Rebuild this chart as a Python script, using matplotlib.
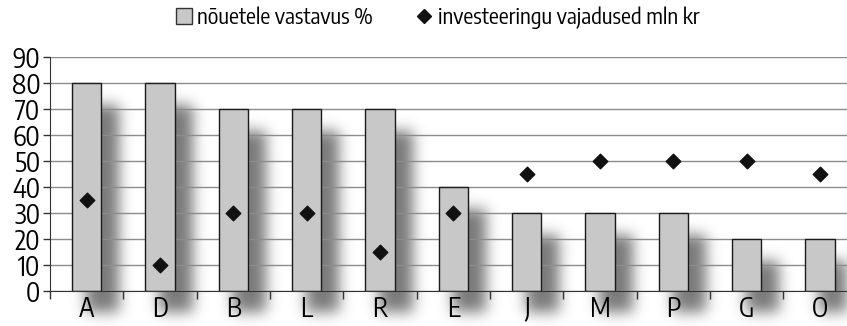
import numpy as np
import matplotlib
matplotlib.use("Agg")
import matplotlib.pyplot as plt
from matplotlib import font_manager
from matplotlib.lines import Line2D

# kitsas kirjatüüp, kui see on olemas
kitsas = None
for f in font_manager.fontManager.ttflist:
    nimi = f.name.lower()
    if ('narrow' in nimi or 'condensed' in nimi) and 'sans' in nimi:
        kitsas = f.name
        break
for f in font_manager.fontManager.ttflist:
    if kitsas is None and f.stretch in ('condensed', 'semi-condensed') \
            and 'mono' not in f.name.lower():
        kitsas = f.name
        break
pered = [kitsas, 'DejaVu Sans'] if kitsas else ['DejaVu Sans']
plt.rcParams['font.family'] = pered
if kitsas is None:
    plt.rcParams['font.stretch'] = 'condensed'

# andmed
kategooriad = ['A', 'D', 'B', 'L', 'R', 'E', 'J', 'M', 'P', 'G', 'O']
vastavus = [80, 80, 70, 70, 70, 40, 30, 30, 30, 20, 20]
investeeringud = [35, 10, 30, 30, 15, 30, 45, 50, 50, 50, 45]

W, H = 847, 326
fig = plt.figure(figsize=(W / 100, H / 100), dpi=100)

# taustatelg varjude jaoks
bg = fig.add_axes([0, 0, 1, 1], zorder=-1)
bg.set_axis_off()

ax = fig.add_axes([50 / W, (H - 290.5) / H, 806.7 / W, 233.5 / H])
ax.set_facecolor('none')

x = np.arange(len(kategooriad))
bar_w = 0.4
ax.bar(x, vastavus, width=bar_w, color='#c8c8c8', edgecolor='#1a1a1a',
       linewidth=1.0, zorder=2)
ax.scatter(x, investeeringud, marker='D', s=55, color='#111111', zorder=3)

ax.set_xlim(-0.5, len(kategooriad) - 0.5)
ax.set_ylim(0, 90)
ax.set_yticks(range(0, 91, 10))
ax.yaxis.grid(True, color='#8c8c8c', linewidth=1.0)
ax.set_axisbelow(True)

ax.set_xticks(x)
ax.set_xticklabels(kategooriad)
ax.set_xticks(np.arange(len(kategooriad) + 1) - 0.5, minor=True)
ax.tick_params(axis='x', which='major', length=0, labelsize=19, pad=3)
ax.tick_params(axis='x', which='minor', length=6, width=1.0, color='#333333',
               direction='out')
ax.tick_params(axis='y', length=5, width=1.0, color='#333333', labelsize=19,
               pad=2)

for s in ['top', 'right']:
    ax.spines[s].set_visible(False)
ax.spines['left'].set_color('#333333')
ax.spines['bottom'].set_color('#333333')

# hägune vari tulpade taga
fig.canvas.draw()
mask = np.zeros((H, W))
dx, dy = 16, 22
for xi, v in zip(x, vastavus):
    x0, y0 = ax.transData.transform((xi - bar_w / 2, 0))
    x1, y1 = ax.transData.transform((xi + bar_w / 2, v))
    c0, c1 = int(round(x0 + dx - 2)), int(round(x1 + dx + 2))
    r0, r1 = int(round(H - y1 + dy)), int(round(H - y0 + dy))
    mask[max(r0, 0):min(r1, H), max(c0, 0):min(c1, W)] = 1.0

sigma = 7.0
k = np.arange(-24, 25)
kern = np.exp(-k ** 2 / (2 * sigma ** 2))
kern /= kern.sum()
mask = np.apply_along_axis(lambda r: np.convolve(r, kern, mode='same'), 1, mask)
mask = np.apply_along_axis(lambda c: np.convolve(c, kern, mode='same'), 0, mask)

rgba = np.zeros((H, W, 4))
rgba[..., :3] = 0.3
rgba[..., 3] = np.clip(mask * 0.75, 0, 1)
bg.imshow(rgba, extent=(0, W, 0, H), origin='upper', aspect='auto',
          interpolation='bilinear')
bg.set_xlim(0, W)
bg.set_ylim(0, H)

handles = [
    Line2D([], [], marker='s', linestyle='none', markersize=11,
           markerfacecolor='#c8c8c8', markeredgecolor='#333333'),
    Line2D([], [], marker='D', linestyle='none', markersize=7,
           color='#111111'),
]
fig.legend(handles, ['nõuetele vastavus %', 'investeeringu vajadused mln kr'],
           loc='center', bbox_to_anchor=(436 / W, 1 - 18 / H), ncol=2,
           frameon=False, fontsize=16, handletextpad=0.1, columnspacing=1.8,
           handlelength=1.0)

fig.savefig('out.png', dpi=100)
